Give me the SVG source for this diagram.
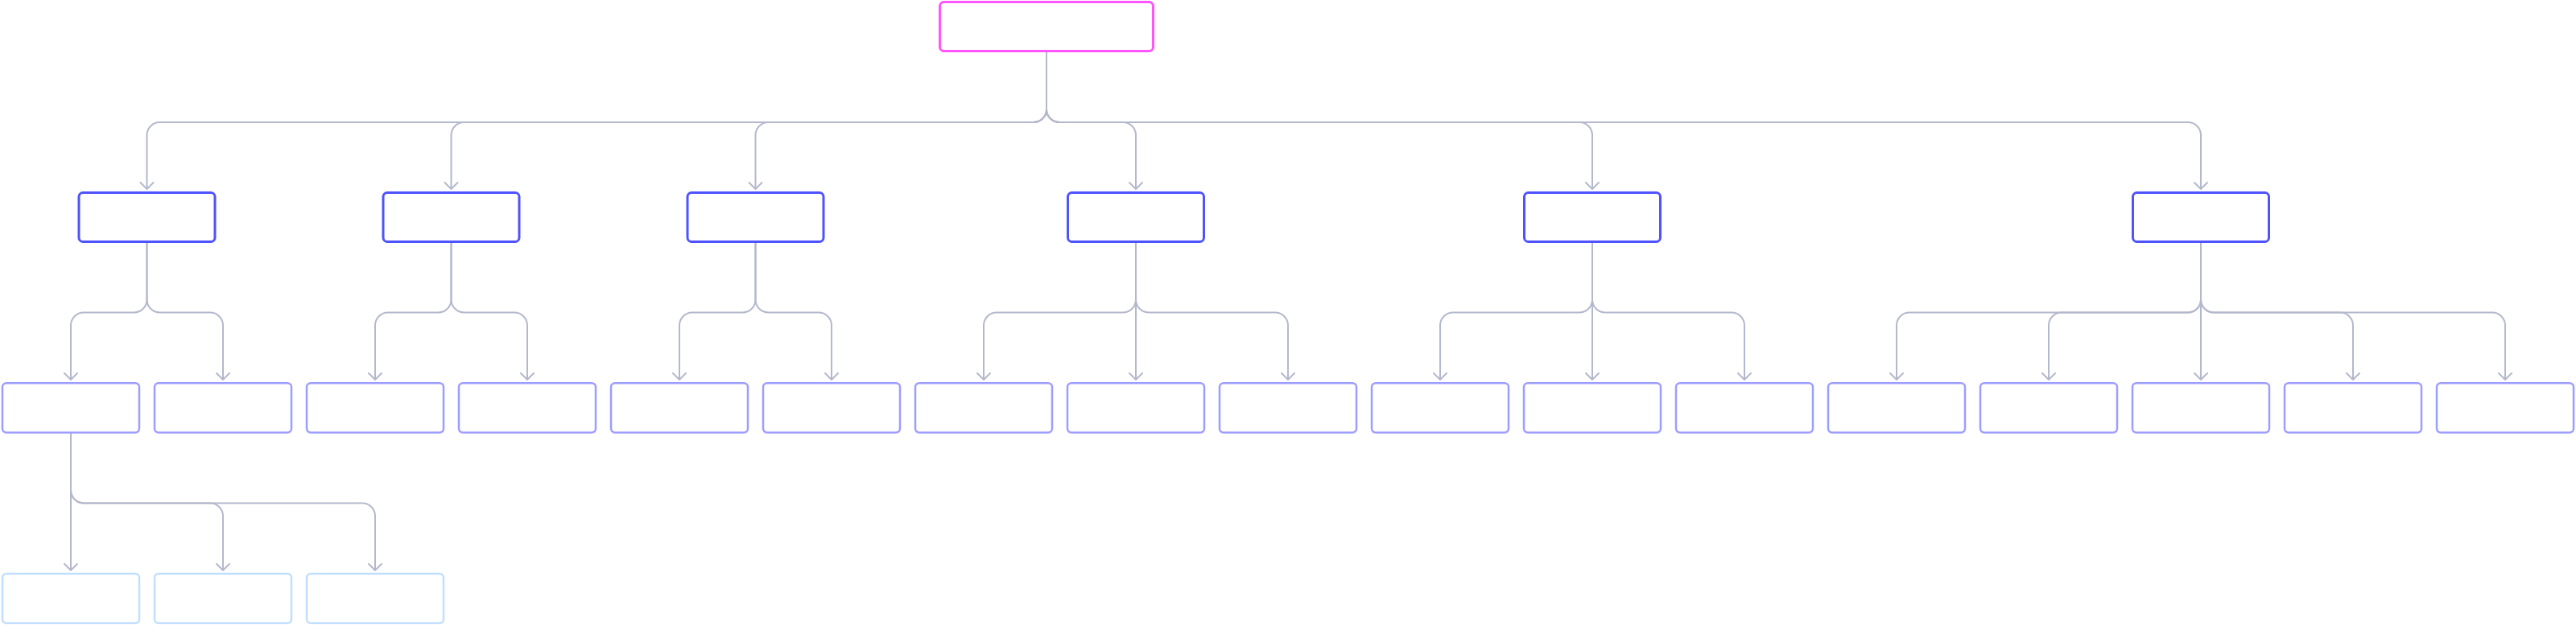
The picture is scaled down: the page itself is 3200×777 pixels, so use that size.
<svg xmlns="http://www.w3.org/2000/svg" width="3200" height="777" viewBox="0 0 3200 777">
<style>
.bg{fill:#ffffff}
.n0{fill:#ffffff;stroke:#ff55ff;stroke-width:3}
.n1{fill:#ffffff;stroke:#4f52ff;stroke-width:3}
.n2{fill:#ffffff;stroke:#9d9dff;stroke-width:2.5}
.n3{fill:#ffffff;stroke:#c0deff;stroke-width:2.5}
.e{fill:none;stroke:#b4b8cc;stroke-width:2;marker-end:url(#arr)}
</style>
<defs>
<marker id="arr" viewBox="0 0 20 20" refX="10" refY="10" markerWidth="20" markerHeight="20" markerUnits="userSpaceOnUse" orient="auto">
<path d="M2,2 L10,10 L2,18" fill="none" stroke="#b4b8cc" stroke-width="2" stroke-linecap="round" stroke-linejoin="round"/>
</marker>
</defs>
<rect class="bg" x="0" y="0" width="3200" height="777"/>
<g id="connectors">
<path class="e" d="M1300,65 V136 A16,16 0 0 1 1284,152 H198.5 A16,16 0 0 0 182.5,168 V235"/>
<path class="e" d="M1300,65 V136 A16,16 0 0 1 1284,152 H576.5 A16,16 0 0 0 560.5,168 V235"/>
<path class="e" d="M1300,65 V136 A16,16 0 0 1 1284,152 H954.5 A16,16 0 0 0 938.5,168 V235"/>
<path class="e" d="M1300,65 V136 A16,16 0 0 0 1316,152 H1395 A16,16 0 0 1 1411,168 V235"/>
<path class="e" d="M1300,65 V136 A16,16 0 0 0 1316,152 H1962 A16,16 0 0 1 1978,168 V235"/>
<path class="e" d="M1300,65 V136 A16,16 0 0 0 1316,152 H2718 A16,16 0 0 1 2734,168 V235"/>

<path class="e" d="M182.5,302 V372.5 A16,16 0 0 1 166.5,388.5 H104 A16,16 0 0 0 88,404.5 V472"/>
<path class="e" d="M182.5,302 V372.5 A16,16 0 0 0 198.5,388.5 H261 A16,16 0 0 1 277,404.5 V472"/>
<path class="e" d="M560.5,302 V372.5 A16,16 0 0 1 544.5,388.5 H482 A16,16 0 0 0 466,404.5 V472"/>
<path class="e" d="M560.5,302 V372.5 A16,16 0 0 0 576.5,388.5 H639 A16,16 0 0 1 655,404.5 V472"/>
<path class="e" d="M938.5,302 V372.5 A16,16 0 0 1 922.5,388.5 H860 A16,16 0 0 0 844,404.5 V472"/>
<path class="e" d="M938.5,302 V372.5 A16,16 0 0 0 954.5,388.5 H1017 A16,16 0 0 1 1033,404.5 V472"/>
<path class="e" d="M1411,302 V372.5 A16,16 0 0 1 1395,388.5 H1238 A16,16 0 0 0 1222,404.5 V472"/>
<path class="e" d="M1411,302 V472"/>
<path class="e" d="M1411,302 V372.5 A16,16 0 0 0 1427,388.5 H1584 A16,16 0 0 1 1600,404.5 V472"/>
<path class="e" d="M1978,302 V372.5 A16,16 0 0 1 1962,388.5 H1805 A16,16 0 0 0 1789,404.5 V472"/>
<path class="e" d="M1978,302 V472"/>
<path class="e" d="M1978,302 V372.5 A16,16 0 0 0 1994,388.5 H2151 A16,16 0 0 1 2167,404.5 V472"/>
<path class="e" d="M2734,302 V372.5 A16,16 0 0 1 2718,388.5 H2372 A16,16 0 0 0 2356,404.5 V472"/>
<path class="e" d="M2734,302 V372.5 A16,16 0 0 1 2718,388.5 H2561 A16,16 0 0 0 2545,404.5 V472"/>
<path class="e" d="M2734,302 V472"/>
<path class="e" d="M2734,302 V372.5 A16,16 0 0 0 2750,388.5 H2907 A16,16 0 0 1 2923,404.5 V472"/>
<path class="e" d="M2734,302 V372.5 A16,16 0 0 0 2750,388.5 H3096 A16,16 0 0 1 3112,404.5 V472"/>

<path class="e" d="M88,539 V709"/>
<path class="e" d="M88,539 V609.5 A16,16 0 0 0 104,625.5 H261 A16,16 0 0 1 277,641.5 V709"/>
<path class="e" d="M88,539 V609.5 A16,16 0 0 0 104,625.5 H450 A16,16 0 0 1 466,641.5 V709"/>
</g>

<g id="root"><rect class="n0" x="1167.5" y="2.5" width="265" height="61" rx="5"/></g>

<g id="a"><rect class="n1" x="98" y="239.5" width="169" height="61" rx="5"/></g>
<g id="b"><rect class="n1" x="476" y="239.5" width="169" height="61" rx="5"/></g>
<g id="c"><rect class="n1" x="854" y="239.5" width="169" height="61" rx="5"/></g>
<g id="d"><rect class="n1" x="1326.5" y="239.5" width="169" height="61" rx="5"/></g>
<g id="e"><rect class="n1" x="1893.5" y="239.5" width="169" height="61" rx="5"/></g>
<g id="f"><rect class="n1" x="2649.5" y="239.5" width="169" height="61" rx="5"/></g>

<g id="a1"><rect class="n2" x="3" y="476.25" width="170" height="61.5" rx="5"/></g>
<g id="a2"><rect class="n2" x="192" y="476.25" width="170" height="61.5" rx="5"/></g>
<g id="b1"><rect class="n2" x="381" y="476.25" width="170" height="61.5" rx="5"/></g>
<g id="b2"><rect class="n2" x="570" y="476.25" width="170" height="61.5" rx="5"/></g>
<g id="c1"><rect class="n2" x="759" y="476.25" width="170" height="61.5" rx="5"/></g>
<g id="c2"><rect class="n2" x="948" y="476.25" width="170" height="61.5" rx="5"/></g>
<g id="d1"><rect class="n2" x="1137" y="476.25" width="170" height="61.5" rx="5"/></g>
<g id="d2"><rect class="n2" x="1326" y="476.25" width="170" height="61.5" rx="5"/></g>
<g id="d3"><rect class="n2" x="1515" y="476.25" width="170" height="61.5" rx="5"/></g>
<g id="e1"><rect class="n2" x="1704" y="476.25" width="170" height="61.5" rx="5"/></g>
<g id="e2"><rect class="n2" x="1893" y="476.25" width="170" height="61.5" rx="5"/></g>
<g id="e3"><rect class="n2" x="2082" y="476.25" width="170" height="61.5" rx="5"/></g>
<g id="f1"><rect class="n2" x="2271" y="476.25" width="170" height="61.5" rx="5"/></g>
<g id="f2"><rect class="n2" x="2460" y="476.25" width="170" height="61.5" rx="5"/></g>
<g id="f3"><rect class="n2" x="2649" y="476.25" width="170" height="61.5" rx="5"/></g>
<g id="f4"><rect class="n2" x="2838" y="476.25" width="170" height="61.5" rx="5"/></g>
<g id="f5"><rect class="n2" x="3027" y="476.25" width="170" height="61.5" rx="5"/></g>

<g id="a1x"><rect class="n3" x="3" y="713.25" width="170" height="61.5" rx="5"/></g>
<g id="a1y"><rect class="n3" x="192" y="713.25" width="170" height="61.5" rx="5"/></g>
<g id="a1z"><rect class="n3" x="381" y="713.25" width="170" height="61.5" rx="5"/></g>
</svg>
